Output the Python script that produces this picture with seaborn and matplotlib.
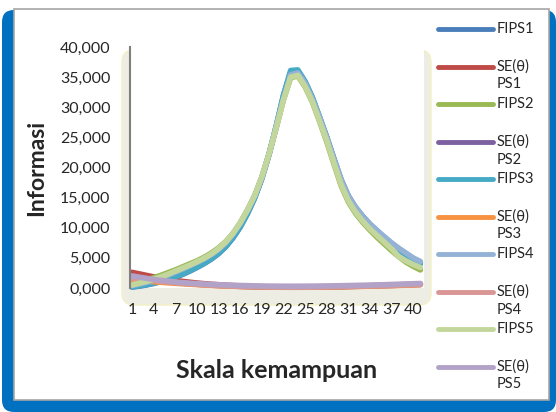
import pandas as pd
import seaborn as sb
import matplotlib.pyplot as plt
from matplotlib.patches import FancyBboxPatch
from matplotlib.lines import Line2D

# step 01: data (41 points on the ability scale)
skala = list(range(1, 42))

fips1 = [150, 300, 500, 750, 1050, 1400, 1800, 2250, 2800, 3400, 4050, 4800, 5700, 6850, 8300, 10100,
         12300, 14900, 18100, 22100, 26800, 31900, 35800, 36000, 34200, 31600, 28400, 25100, 21500, 18000,
         15300, 13400, 11900, 10600, 9500, 8400, 7400, 6500, 5700, 4900, 4200]
se1 = [2600, 2350, 2100, 1850, 1650, 1450, 1270, 1100, 960, 830, 720, 620, 540, 460, 400, 340, 290, 250,
       210, 180, 160, 150, 140, 140, 150, 160, 180, 200, 220, 250, 280, 310, 340, 380, 420, 460, 500, 540,
       580, 620, 660]
fips2 = [700, 1000, 1350, 1700, 2100, 2550, 3000, 3500, 4000, 4500, 5100, 5800, 6650, 7700, 9050, 10800,
         12900, 15300, 18400, 22200, 26600, 31200, 34900, 35200, 33400, 30900, 27700, 24300, 20600, 17000,
         14300, 12400, 10900, 9600, 8400, 7300, 6200, 5200, 4300, 3600, 3000]
se2 = [1800, 1650, 1500, 1350, 1200, 1060, 930, 820, 720, 630, 550, 480, 420, 360, 310, 270, 230, 200,
       170, 150, 140, 130, 125, 125, 130, 140, 155, 175, 195, 220, 245, 270, 300, 330, 360, 390, 420, 460,
       500, 540, 580]
fips3 = [200, 350, 550, 800, 1100, 1450, 1850, 2300, 2850, 3450, 4100, 4850, 5750, 6900, 8350, 10150,
         12350, 14950, 18200, 22200, 26900, 32000, 36100, 36200, 34300, 31700, 28400, 25000, 21400, 17900,
         15100, 13200, 11700, 10400, 9300, 8200, 7200, 6300, 5500, 4700, 4000]
se3 = [1300, 1220, 1130, 1040, 950, 860, 780, 700, 630, 560, 500, 440, 390, 340, 300, 260, 225, 195, 170,
       150, 135, 125, 120, 120, 125, 135, 150, 165, 185, 205, 230, 255, 280, 310, 340, 370, 400, 430, 470,
       510, 550]
fips4 = [400, 650, 950, 1300, 1700, 2150, 2650, 3150, 3700, 4250, 4850, 5550, 6400, 7500, 8950, 10700,
         12850, 15250, 18350, 22250, 26700, 31400, 35400, 35700, 34000, 31400, 28300, 25000, 21400, 18000,
         15300, 13400, 11900, 10600, 9500, 8500, 7500, 6600, 5800, 5000, 4400]
se4 = [1600, 1480, 1360, 1240, 1120, 1000, 890, 790, 700, 620, 540, 470, 410, 360, 310, 270, 235, 205,
       180, 160, 145, 135, 130, 130, 135, 145, 160, 180, 200, 225, 250, 280, 310, 340, 370, 410, 450, 490,
       530, 570, 610]
fips5 = [500, 800, 1100, 1450, 1850, 2300, 2800, 3300, 3800, 4350, 4950, 5650, 6550, 7650, 9050, 10800,
         12900, 15300, 18400, 22200, 26600, 31200, 35000, 35300, 33500, 31000, 27800, 24500, 20800, 17200,
         14500, 12600, 11100, 9800, 8700, 7600, 6500, 5200, 4500, 3900, 3400]
se5 = [2000, 1800, 1600, 1420, 1260, 1120, 1000, 900, 810, 730, 660, 600, 550, 500, 460, 420, 390, 360,
       340, 320, 310, 300, 300, 300, 305, 315, 330, 345, 365, 385, 410, 435, 460, 490, 520, 550, 590, 630,
       670, 710, 750]

series_names = ["FIPS1", "SE(θ)\nPS1", "FIPS2", "SE(θ)\nPS2", "FIPS3",
                "SE(θ)\nPS3", "FIPS4", "SE(θ)\nPS4", "FIPS5", "SE(θ)\nPS5"]
series_values = [fips1, se1, fips2, se2, fips3, se3, fips4, se4, fips5, se5]
colors = ["#4A7EBB", "#BE4B48", "#98B954", "#7D60A0", "#46AAC5",
          "#F69240", "#94B2D6", "#D99694", "#C3D69B", "#B3A2C7"]

y_ticks = [0, 5000, 10000, 15000, 20000, 25000, 30000, 35000, 40000]
y_labels = ["0,000", "5,000", "10,000", "15,000", "20,000", "25,000", "30,000", "35,000", "40,000"]

# step 02: long format for seaborn
rows = []
for name, vals in zip(series_names, series_values):
    for xi, v in zip(skala, vals):
        rows.append({"skala": xi, "informasi": v, "seri": name})
df = pd.DataFrame(rows)

sb.set_style("white")
plt.rcParams['font.family'] = ['Lato', 'DejaVu Sans']

fig = plt.figure(figsize=(5.56, 4.12), dpi=100)

def fx(px):
    return px / 556

def fy(py):
    return 1 - py / 412

# background frame: blue rounded box, white panel, beige "3D" wall
blue = FancyBboxPatch((0.02, 0.0), 5.54, 4.02, boxstyle="round,pad=0,rounding_size=0.12",
                      transform=fig.dpi_scale_trans, fc="#0070C0", ec="none", zorder=-3)
panel = FancyBboxPatch((0.14, 0.12), 5.35, 3.91, boxstyle="square,pad=0",
                       transform=fig.dpi_scale_trans, fc="white", ec="#A6A6A6", lw=1.2, zorder=-2)
wall = FancyBboxPatch((1.22, 1.07), 3.09, 2.55, boxstyle="round,pad=0,rounding_size=0.12",
                      transform=fig.dpi_scale_trans, fc="#EEEDE3", ec="#F4F0C4", lw=1.0, zorder=-1)
for p in (blue, panel, wall):
    fig.add_artist(p)

ax = fig.add_axes([fx(130), fy(288), fx(424) - fx(130), fy(47) - fy(288)])
ax.set_facecolor("white")

sb.lineplot(data=df, x="skala", y="informasi", hue="seri", hue_order=series_names,
            palette=colors, linewidth=4, legend=False, ax=ax)
for line in ax.lines:
    line.set_solid_capstyle("round")
    line.set_solid_joinstyle("round")
    line.set_clip_on(False)

ax.set_xlim(0.72, 41.5)
ax.set_ylim(0, 40000)
ax.set_xticks(skala[::3])
ax.set_xticklabels([str(v) for v in skala[::3]], fontsize=11.5)
ax.set_yticks(y_ticks)
ax.set_yticklabels(y_labels, fontsize=11.5)
ax.tick_params(axis="x", length=0, pad=11)
ax.tick_params(axis="y", length=0, pad=14)
ax.set_xlabel("")
ax.set_ylabel("")
for side in ["top", "right", "bottom"]:
    ax.spines[side].set_visible(False)
ax.spines["left"].set_color("#7F7F7F")
ax.spines["left"].set_linewidth(1.5)

fig.text(fx(37), fy(168), "Informasi", rotation=90, fontsize=16.5, fontweight="bold",
         ha="center", va="center")
fig.text(fx(277), fy(370), "Skala kemampuan", fontsize=18, fontweight="bold",
         ha="center", va="center")

# step 03: legend on the right, drawn by hand so the line sits on the first text line
for i, (name, col) in enumerate(zip(series_names, colors)):
    yy = 29 + 37.5 * i
    fig.add_artist(Line2D([fx(438), fx(493)], [fy(yy), fy(yy)], transform=fig.transFigure,
                          color=col, lw=3.5, solid_capstyle="round"))
    for k, part in enumerate(name.split("\n")):
        fig.text(fx(497), fy(yy + 18 * k), part, fontsize=10.5, ha="left", va="center")

fig.savefig("out.png", dpi=100)
